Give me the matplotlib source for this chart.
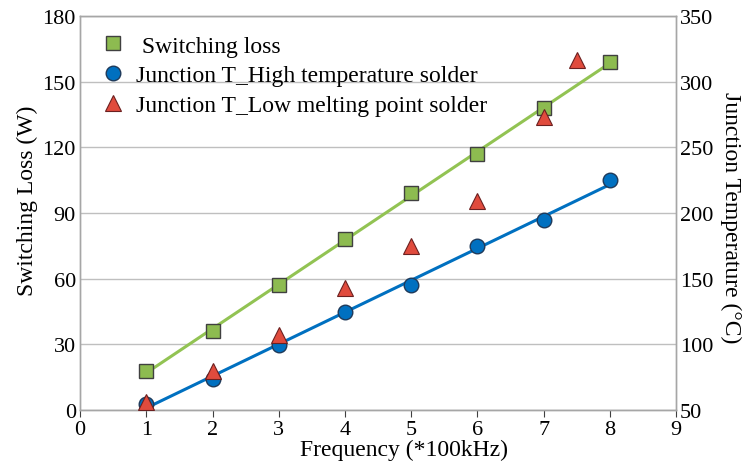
import numpy as np
import matplotlib
matplotlib.use("Agg")
import matplotlib.pyplot as plt

# values
freq = [1, 2, 3, 4, 5, 6, 7, 8]
switching_loss = [18, 36, 57, 78, 99, 117, 138, 159]           # W, left axis
tj_high = [55, 74, 99.5, 125, 145, 175, 195, 225]            # degC, right axis
freq_low = [1, 2, 3, 4, 5, 6, 7, 7.5]
tj_low = [56, 79.5, 107.5, 143, 175, 209.5, 273, 317]         # degC, right axis

x_ticks = list(range(0, 10))
left_ticks = [0, 30, 60, 90, 120, 150, 180]
right_ticks = [50, 100, 150, 200, 250, 300, 350]

green = "#8DBB50"
blue = "#0070C0"
red = "#E04B3D"
grey = "#A6A6A6"

plt.rcParams["font.family"] = ["Liberation Serif", "DejaVu Serif"]
plt.rcParams["font.size"] = 16

fig = plt.figure(figsize=(7.49, 4.64), dpi=100)
ax = fig.add_axes([0.107, 0.114, 0.7955, 0.849])
ax2 = ax.twinx()

# linear trend lines through the points
x_fit = np.array([freq[0], freq[-1]])
k1, b1 = np.polyfit(freq, switching_loss, 1)
k2, b2 = np.polyfit(freq, tj_high, 1)

ax.plot(x_fit, k1 * x_fit + b1, color="#92C353", lw=2.2, zorder=2)
sq, = ax.plot(freq, switching_loss, "s", ms=10, mfc=green, mec="#404040",
              mew=1.0, zorder=3, label=" Switching loss")

ax2.plot(x_fit, k2 * x_fit + b2, color=blue, lw=2.2, zorder=2)
ci, = ax2.plot(freq, tj_high, "o", ms=10.5, mfc=blue, mec="#1F3A5A",
               mew=1.0, zorder=3, label="Junction T_High temperature solder")
tr, = ax2.plot(freq_low, tj_low, "^", ms=11, mfc=red, mec="#6B2020",
               mew=0.8, zorder=4, label="Junction T_Low melting point solder")

ax.set_xlim(0, 9)
ax.set_ylim(0, 180)
ax2.set_ylim(50, 350)
ax.set_xticks(x_ticks)
ax.set_yticks(left_ticks)
ax2.set_yticks(right_ticks)

ax.grid(axis="y", color="#BFBFBF", lw=1.0)
ax.set_axisbelow(True)
for a in (ax, ax2):
    for s in a.spines.values():
        s.set_color(grey)
        s.set_linewidth(1.0)
ax.tick_params(axis="x", direction="out", length=5, color="#404040", pad=2,
               labelsize=16)
ax.tick_params(axis="y", length=0, pad=3, labelsize=16)
ax2.tick_params(axis="y", length=0, pad=3, labelsize=16)

ax.set_xlabel("Frequency (*100kHz)", fontsize=17, labelpad=0, x=0.544)
ax.set_ylabel("Switching Loss (W)", fontsize=17, labelpad=3, y=0.535)
ax2.set_ylabel("Junction Temperature (°C)", fontsize=17, rotation=270,
               labelpad=20, y=0.49)

ax2.legend(handles=[sq, ci, tr], loc="upper left", frameon=False,
           bbox_to_anchor=(0.0, 1.0), handletextpad=0.35, labelspacing=0.35,
           borderaxespad=0.4, fontsize=17, handlelength=1.2)

fig.savefig("out.png", dpi=100)
